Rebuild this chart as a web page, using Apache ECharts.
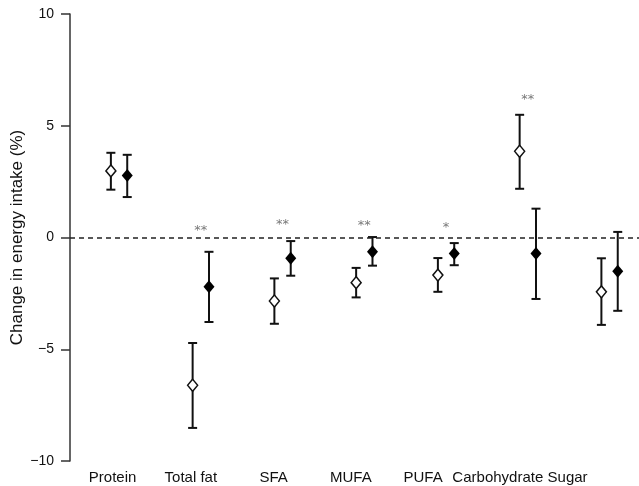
<!DOCTYPE html>
<html><head><meta charset="utf-8">
<script src="https://cdn.jsdelivr.net/npm/echarts@6/dist/echarts.min.js"></script>
<style>html,body{margin:0;padding:0;background:#fff}#c{width:639px;height:486px}</style>
</head><body><div id="c"></div>
<script>
// ---- data ----
const categories = ['Protein', 'Total fat', 'SFA', 'MUFA', 'PUFA', 'Carbohydrate', 'Sugar'];
const openMean  = [2.98, -6.61, -2.84, -2.02, -1.68, 3.86, -2.43];
const openLow   = [2.14, -8.52, -3.86, -2.68, -2.43, 2.18, -3.91];
const openHigh  = [3.79, -4.72, -1.83, -1.36, -0.92, 5.49, -0.93];
const filledMean = [2.77, -2.20, -0.93, -0.64, -0.72, -0.72, -1.51];
const filledLow  = [1.81, -3.78, -1.71, -1.26, -1.24, -2.75, -3.28];
const filledHigh = [3.70, -0.64, -0.16, 0.02, -0.25, 1.29, 0.25];
const sigLabels = ['', '**', '**', '**', '*', '**', ''];
const sigY      = [null, 0.30, 0.56, 0.51, 0.42, 6.15, null];
const yTicks = [-10, -5, 0, 5, 10];

// ---- style ----
const pairOffset = 0.1;
const labelPadRight = [13, 20, 18, 27, 46, 60, 84];
const FONT = '"Liberation Sans", Arial, sans-serif';
const INK = '#111';

const idx = categories.map((_, i) => i);
const openPts = idx.map(i => [i - pairOffset, openMean[i]]);
const filledPts = idx.map(i => [i + pairOffset, filledMean[i]]);
const openBars = idx.map(i => [i - pairOffset, openLow[i], openHigh[i]]);
const filledBars = idx.map(i => [i + pairOffset, filledLow[i], filledHigh[i]]);
const sigPts = idx.filter(i => sigY[i] !== null).map(i => ({ value: [i, sigY[i]], label: { formatter: sigLabels[i] } }));

function errRender(params, api) {
  const x = api.value(0);
  const lo = api.coord([x, api.value(1)]);
  const hi = api.coord([x, api.value(2)]);
  const w = 4.5;
  const st = { stroke: INK, lineWidth: 2 };
  return {
    type: 'group',
    children: [
      { type: 'line', shape: { x1: lo[0], y1: lo[1], x2: hi[0], y2: hi[1] }, style: st },
      { type: 'line', shape: { x1: lo[0] - w, y1: lo[1], x2: lo[0] + w, y2: lo[1] }, style: st },
      { type: 'line', shape: { x1: hi[0] - w, y1: hi[1], x2: hi[0] + w, y2: hi[1] }, style: st }
    ]
  };
}

const rich = {};
labelPadRight.forEach((p, i) => { rich['s' + i] = { padding: [0, p, 0, 0], fontSize: 15, fontFamily: FONT, color: INK }; });

const chart = echarts.init(document.getElementById('c'), null, { renderer: 'canvas' });
chart.setOption({
  animation: false,
  backgroundColor: '#fff',
  grid: { left: 70, right: 0, top: 14, bottom: 25, containLabel: false, outerBoundsMode: 'none' },
  xAxis: {
    type: 'value', min: -0.6, max: 6.36,
    axisLine: { show: false, onZero: false }, axisTick: { show: false }, splitLine: { show: false },
    axisLabel: {
      customValues: idx, margin: 9,
      formatter: v => '{s' + Math.round(v) + '|' + categories[Math.round(v)] + '}',
      rich: rich, fontSize: 15, fontFamily: FONT, color: INK
    }
  },
  yAxis: {
    type: 'value', min: yTicks[0], max: yTicks[yTicks.length - 1], interval: 5,
    name: 'Change in energy intake (%)', nameLocation: 'middle', nameGap: 44, nameMoveOverlap: false,
    nameTextStyle: { fontSize: 17, fontFamily: FONT, color: INK },
    axisLine: { show: true, onZero: false, lineStyle: { color: '#333', width: 1.5 } },
    axisTick: { show: true, length: 9, lineStyle: { color: '#333', width: 1.5 } },
    splitLine: { show: false },
    axisLabel: { fontSize: 14, fontFamily: FONT, color: INK, margin: 16,
      formatter: v => String(v).replace('-', '\u2212') }
  },
  series: [
    { type: 'custom', renderItem: errRender, data: openBars, z: 2,
      encode: { x: 0, y: [1, 2] },
      markLine: { silent: true, symbol: 'none', label: { show: false },
        lineStyle: { color: '#222', type: [5, 4], width: 1.5 }, data: [{ yAxis: 0 }] } },
    { type: 'custom', renderItem: errRender, data: filledBars, z: 2, encode: { x: 0, y: [1, 2] } },
    { type: 'scatter', data: openPts, symbol: 'diamond', symbolSize: [10, 12], z: 3,
      itemStyle: { color: '#fff', borderColor: INK, borderWidth: 1.5, opacity: 1 } },
    { type: 'scatter', data: filledPts, symbol: 'diamond', symbolSize: [11, 13], z: 3,
      itemStyle: { color: '#000', opacity: 1 } },
    { type: 'scatter', data: sigPts, symbolSize: 0, z: 4,
      label: { show: true, position: 'inside', fontSize: 13, fontFamily: '"DejaVu Sans", sans-serif', color: '#555' } }
  ]
});
</script>
</body></html>
